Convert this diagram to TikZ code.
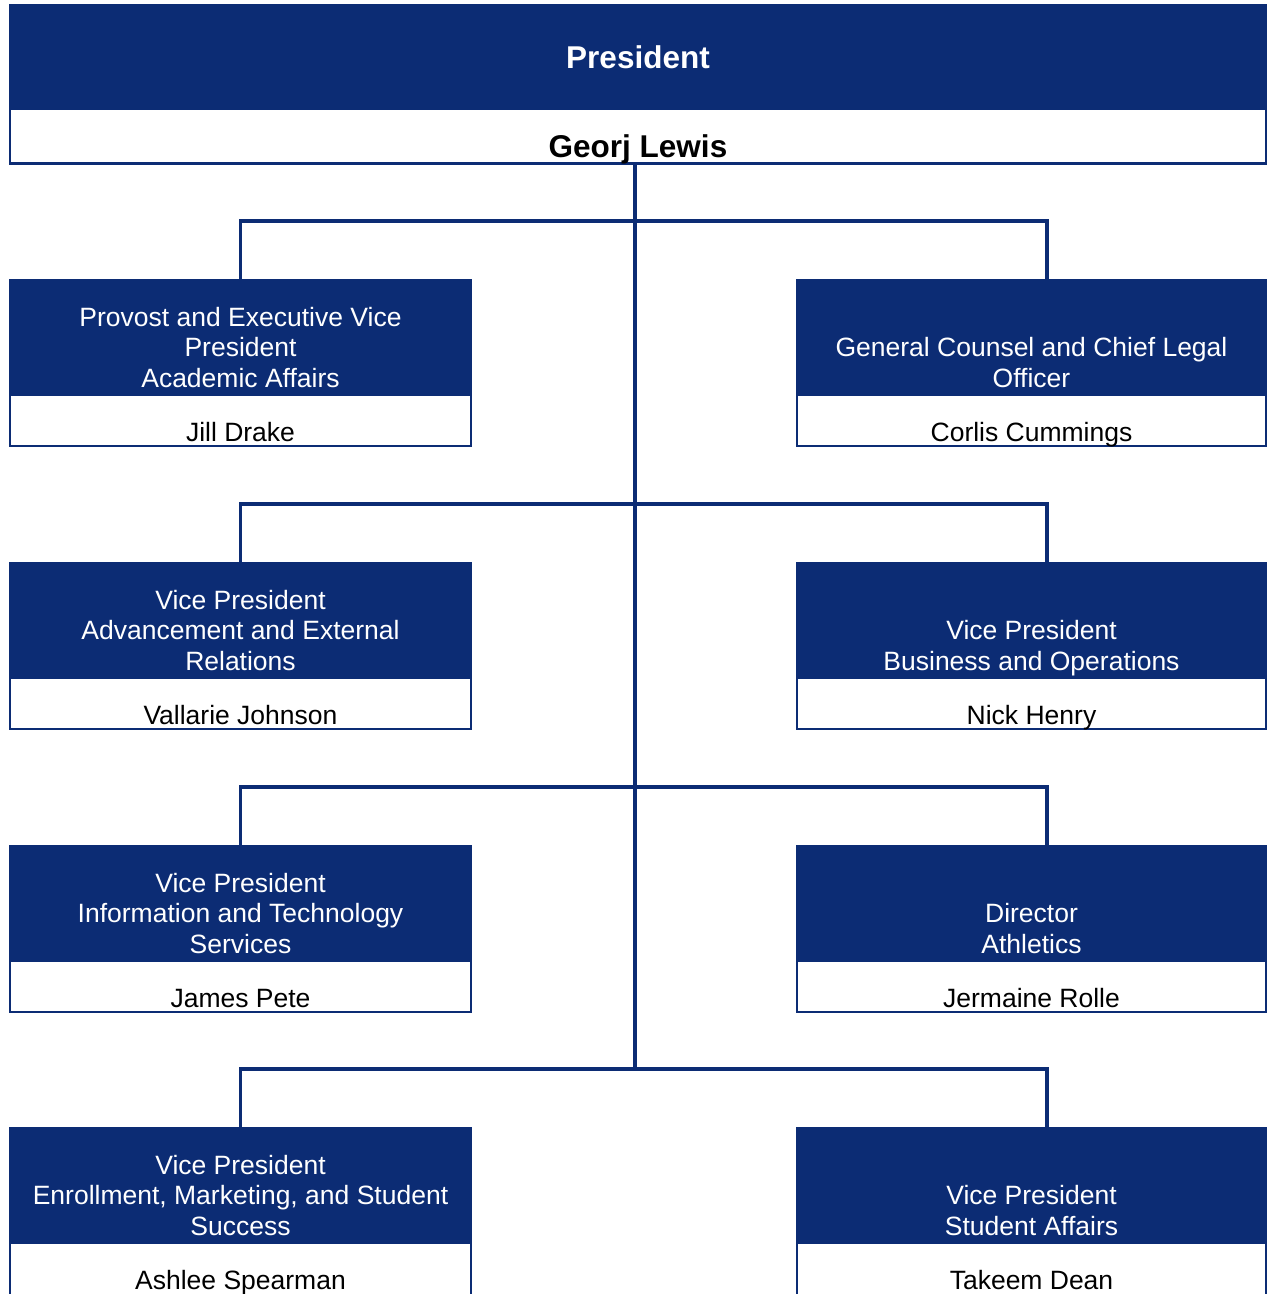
\documentclass[tikz,border=0pt]{standalone}
\usepackage{fontspec}
\setmainfont{Liberation Sans}
\usetikzlibrary{calc}
\definecolor{navy}{RGB}{12,44,116}
\newcommand\orgcard[8]{%
  % #1 name, #2 x left, #3 x right, #4 y top, #5 number of title lines, #6 title lines, #7 person, #8 white height
  \node[whitebox, minimum width={#3-#2-2}, minimum height={#8}] (#1w) at ({(#2+#3)/2},{-(#4+116+#8/2)}) {};
  \node[bluebox, minimum width={#3-#2}, minimum height=116] (#1) at ({(#2+#3)/2},{-(#4+58)}) {};
  \foreach \tline [count=\i] in {#6} {
    \node[ttl, anchor=base] (#1t\i) at ({(#2+#3)/2},{-(#4+116-8-30.5*(#5-\i))}) {\tline};
  }
  \node[nm, anchor=base] (#1n) at ({(#2+#3)/2},{-(#4+116+46)}) {#7};
}
\begin{document}
\begin{tikzpicture}[x=1pt,y=1pt,
  bluebox/.style={rectangle, fill=navy, draw=none, inner sep=0pt, outer sep=0pt},
  whitebox/.style={rectangle, fill=white, draw=navy, line width=2.2pt, inner sep=0pt, outer sep=0pt},
  conn/.style={draw=navy, line width=3.3pt},
  ttl/.style={text=white, font=\fontsize{26.5}{30.5}\selectfont, inner sep=0pt},
  nm/.style={text=black, font=\fontsize{26.5}{30.5}\selectfont, inner sep=0pt},
  bigt/.style={font=\fontsize{31.5}{36}\selectfont\bfseries, inner sep=0pt}]
\useasboundingbox (0,0) rectangle (1268,-1294);
\fill[white] (0,0) rectangle (1268,-1294);

% junction points of the connectors
\coordinate (j1) at (635,-221);
\coordinate (j2) at (635,-504);
\coordinate (j3) at (635,-787);
\coordinate (j4) at (635,-1069);
\coordinate (r1) at (1047,-280);
\coordinate (r2) at (1047,-563);
\coordinate (r3) at (1047,-846);
\coordinate (r4) at (1047,-1128);

% top box
\node[whitebox, minimum width=1256, minimum height=55] (presw) at (638,-136) {};
\node[bluebox, minimum width=1258, minimum height=104, anchor=north west] (pres) at (9,-4) {};
\node[bigt, text=white, anchor=base] (prest) at (638,-68) {President};
\node[bigt, text=black, anchor=base] (presn) at (638,-157) {Georj Lewis};

\draw[conn] (presw.south -| j1) -- (j4);

% row 1
\orgcard{a1}{9}{472}{279}{3}{{Provost and Executive Vice},{President},{Academic Affairs}}{Jill Drake}{51}
\orgcard{b1}{796}{1267}{279}{2}{{General Counsel and Chief Legal},{Officer}}{Corlis Cummings}{51}
% row 2
\orgcard{a2}{9}{472}{562}{3}{{Vice President},{Advancement and External},{Relations}}{Vallarie Johnson}{51}
\orgcard{b2}{796}{1267}{562}{2}{{Vice President},{Business and Operations}}{Nick Henry}{51}
% row 3
\orgcard{a3}{9}{472}{845}{3}{{Vice President},{Information and Technology},{Services}}{James Pete}{51}
\orgcard{b3}{796}{1267}{845}{2}{{Director},{Athletics}}{Jermaine Rolle}{51}
% row 4
\orgcard{a4}{9}{472}{1127}{3}{{Vice President},{Enrollment, Marketing, and Student},{Success}}{Ashlee Spearman}{70}
\orgcard{b4}{796}{1267}{1127}{2}{{Vice President},{Student Affairs}}{Takeem Dean}{70}

% branches
\draw[conn] (a1.north) |- (j1) -| (r1);
\draw[conn] (a2.north) |- (j2) -| (r2);
\draw[conn] (a3.north) |- (j3) -| (r3);
\draw[conn] (a4.north) |- (j4) -| (r4);
\end{tikzpicture}
\end{document}
